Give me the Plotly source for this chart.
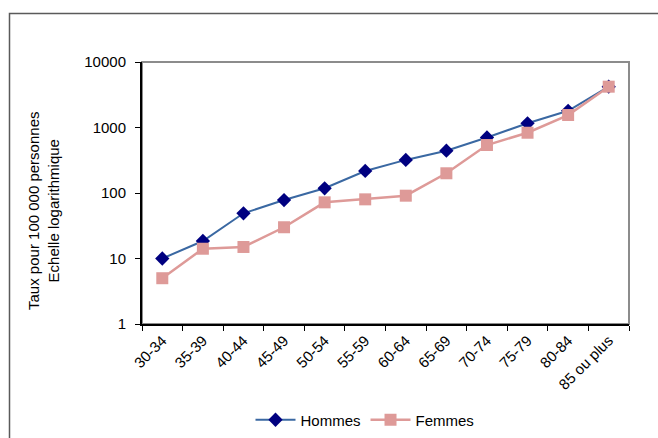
import plotly.graph_objects as go

age_groups = ["30-34", "35-39", "40-44", "45-49", "50-54", "55-59",
              "60-64", "65-69", "70-74", "75-79", "80-84", "85 ou plus"]
hommes = [10, 18.5, 49, 78, 118, 217, 320, 442, 705, 1160, 1800, 4200]
femmes = [5, 14.1, 15, 30, 72, 80, 91, 200, 540, 832, 1550, 4200]
y_ticks = [1, 10, 100, 1000, 10000]
y_tick_labels = ["1", "10", "100", "1000", "10000"]

W, H = 658, 438
L, R, T, B = 142, 629, 62, 324

def px_x(p):
    return (p - L) / (R - L)

def px_y(p):
    return (B - p) / (B - T)

FONT = "Liberation Sans, Arial, sans-serif"

fig = go.Figure()
fig.add_trace(go.Scatter(
    x=age_groups, y=hommes, name="Hommes", mode="lines+markers",
    line=dict(color="#3A68A2", width=2),
    marker=dict(symbol="diamond", size=11, color="#000080"),
))
fig.add_trace(go.Scatter(
    x=age_groups, y=femmes, name="Femmes", mode="lines+markers",
    line=dict(color="#DE9A98", width=2.5),
    marker=dict(symbol="square", size=12, color="#DE9A98"),
))

fig.update_layout(
    width=W, height=H,
    margin=dict(l=L, r=W - R, t=T, b=H - B, pad=0, autoexpand=False),
    paper_bgcolor="white", plot_bgcolor="white",
    font=dict(family=FONT, size=15, color="#000000"),
    showlegend=True,
    legend=dict(orientation="h", xref="container", yref="container",
                x=365 / W, y=1 - 420 / H,
                xanchor="center", yanchor="middle",
                font=dict(size=15), itemwidth=40,
                bgcolor="rgba(0,0,0,0)"),
    xaxis=dict(
        type="category", showgrid=False, zeroline=False, automargin=False,
        showline=True, linecolor="#000000", linewidth=2,
        ticks="outside", ticklen=5, tickcolor="#000000", tickwidth=1,
        tickson="boundaries", tickangle=-45,
        tickfont=dict(size=15), range=[-0.5, 11.5],
    ),
    yaxis=dict(
        type="log", range=[0, 4], showgrid=False, zeroline=False, automargin=False,
        showline=True, linecolor="#000000", linewidth=2,
        ticks="outside", ticklen=5, tickcolor="#000000", tickwidth=1,
        tickvals=y_ticks, ticktext=y_tick_labels,
        tickfont=dict(size=15), ticklabelstandoff=6,
    ),
    shapes=[
        dict(type="rect", xref="paper", yref="paper", x0=0, y0=0, x1=1, y1=1,
             line=dict(color="#8C8C8C", width=2), layer="below"),
        dict(type="rect", xref="paper", yref="paper",
             x0=px_x(9.5), y0=px_y(470), x1=px_x(700), y1=px_y(13.5),
             line=dict(color="#5A5A5A", width=1.5), layer="below"),
    ],
    annotations=[
        dict(text="Taux pour 100 000 personnes<br>Echelle logarithmique",
             xref="paper", yref="paper", x=px_x(43), y=px_y(211),
             xanchor="center", yanchor="middle", textangle=-90,
             showarrow=False, font=dict(size=15)),
    ],
)

fig.write_html("out.html", config={"displayModeBar": False},
               post_script="document.body.style.margin='0';document.body.style.overflow='hidden';")
